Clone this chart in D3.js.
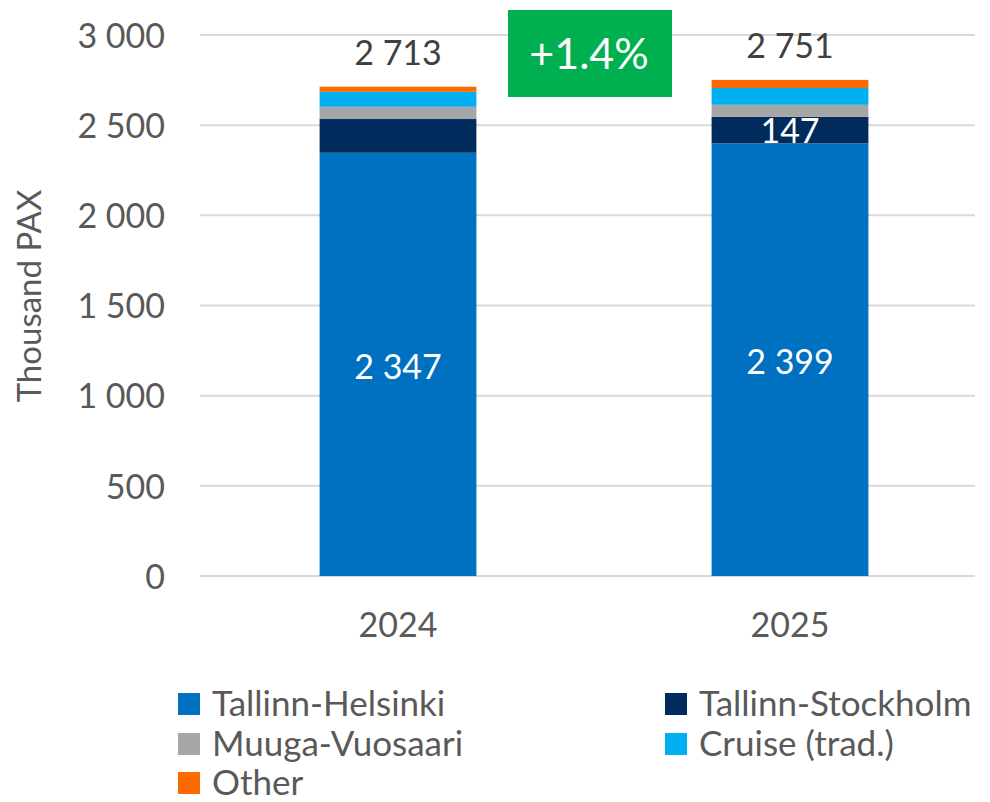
<!DOCTYPE html>
<html><head><meta charset="utf-8">
<script src="https://cdn.jsdelivr.net/npm/d3@7"></script>
<style>body{margin:0;background:#fff;} svg{display:block;font-family:Lato,"Noto Sans",sans-serif;}</style>
</head><body>
<svg id="chart" width="990" height="802"></svg>
<script>
const years = ["2024", "2025"];
const seriesNames = ["Tallinn-Helsinki", "Tallinn-Stockholm", "Muuga-Vuosaari", "Cruise (trad.)", "Other"];
const seriesColors = ["#0070C0", "#002B5C", "#A6A6A6", "#00B0F0", "#FF6A00"];
const tallinnHelsinki = [2347, 2399];
const tallinnStockholm = [187, 147];
const muugaVuosaari = [68, 67];
const cruise = [83, 93];
const other = [28, 45];
const totals = [2713, 2751];
const yTicks = [0, 500, 1000, 1500, 2000, 2500, 3000];
const changeLabel = "+1.4%";
const segLabels = [[true, false, false, false, false], [true, true, false, false, false]];

const svg = d3.select("#chart");
const textColor = "#595959";
const fmt = v => d3.format(",")(v).replace(/,/g, " ");

const x = d3.scaleBand().domain(years).range([202, 986]).padding(0);
const y = d3.scaleLinear().domain([0, 3000]).range([576, 35]);
const barW = x.bandwidth() * 0.4;

// gridlines
svg.append("g").selectAll("line").data(yTicks).join("line")
  .attr("x1", 200).attr("x2", 975)
  .attr("y1", d => y(d)).attr("y2", d => y(d))
  .attr("stroke", "#D9D9D9").attr("stroke-width", 2);

// y axis
const yAxis = d3.axisLeft(y).tickValues(yTicks).tickFormat(fmt).tickSize(0).tickPadding(0);
const ga = svg.append("g").attr("transform", "translate(165,0)").call(yAxis);
ga.select(".domain").remove();
ga.selectAll("text").attr("fill", textColor).style("font-size", "34px").style("font-family", "Lato, sans-serif").attr("dy", "0.36em");

// x axis
const xAxis = d3.axisBottom(x).tickSize(0).tickPadding(0);
const gx = svg.append("g").attr("transform", "translate(0,625)").call(xAxis);
gx.select(".domain").remove();
gx.selectAll("text").attr("fill", textColor).style("font-size", "34px").style("font-family", "Lato, sans-serif").attr("y", 0).attr("dy", "0.36em");

// y title
svg.append("text").attr("transform", "translate(29,296) rotate(-90)")
  .attr("text-anchor", "middle").attr("dy", "0.36em")
  .attr("fill", textColor).style("font-size", "33px").text("Thousand PAX");

// stacked data
const rows = years.map((yr, i) => ({year: yr, s0: tallinnHelsinki[i], s1: tallinnStockholm[i], s2: muugaVuosaari[i], s3: cruise[i], s4: other[i]}));
const stack = d3.stack().keys(["s0", "s1", "s2", "s3", "s4"]);
const stacked = stack(rows);

svg.append("g").selectAll("g").data(stacked).join("g")
  .attr("fill", (d, i) => seriesColors[i])
  .selectAll("rect").data(d => d).join("rect")
  .attr("x", d => x(d.data.year) + (x.bandwidth() - barW) / 2)
  .attr("width", barW)
  .attr("y", d => y(d[1]))
  .attr("height", d => y(d[0]) - y(d[1]));

// segment labels
stacked.forEach((layer, li) => {
  layer.forEach((d, bi) => {
    if (!segLabels[bi][li]) return;
    svg.append("text")
      .attr("x", x(d.data.year) + x.bandwidth() / 2)
      .attr("y", (y(d[0]) + y(d[1])) / 2 + (li === 0 ? 2 : 1))
      .attr("text-anchor", "middle").attr("dy", "0.36em")
      .attr("fill", "#fff").style("font-size", "34px")
      .text(fmt(d[1] - d[0]));
  });
});

// totals
years.forEach((yr, i) => {
  svg.append("text")
    .attr("x", x(yr) + x.bandwidth() / 2)
    .attr("y", y(totals[i]) - 34)
    .attr("text-anchor", "middle").attr("dy", "0.36em")
    .attr("fill", "#404040").style("font-size", "34px")
    .text(fmt(totals[i]));
});

// change box
svg.append("rect").attr("x", 508).attr("y", 10).attr("width", 164).attr("height", 87).attr("fill", "#00B050");
svg.append("text").attr("x", 589).attr("y", 54).attr("text-anchor", "middle").attr("dy", "0.36em")
  .attr("fill", "#fff").style("font-size", "43px").text(changeLabel);

// legend
const legPos = [[178, 704], [665, 704], [178, 744], [665, 744], [178, 783]];
const lg = svg.append("g").selectAll("g").data(seriesNames).join("g")
  .attr("transform", (d, i) => `translate(${legPos[i][0]},${legPos[i][1]})`);
lg.append("rect").attr("x", 0).attr("y", -11).attr("width", 22).attr("height", 22).attr("fill", (d, i) => seriesColors[i]);
lg.append("text").attr("x", 34).attr("y", 0).attr("dy", "0.35em").attr("fill", textColor).style("font-size", "35px").text(d => d);
</script>
</body></html>
